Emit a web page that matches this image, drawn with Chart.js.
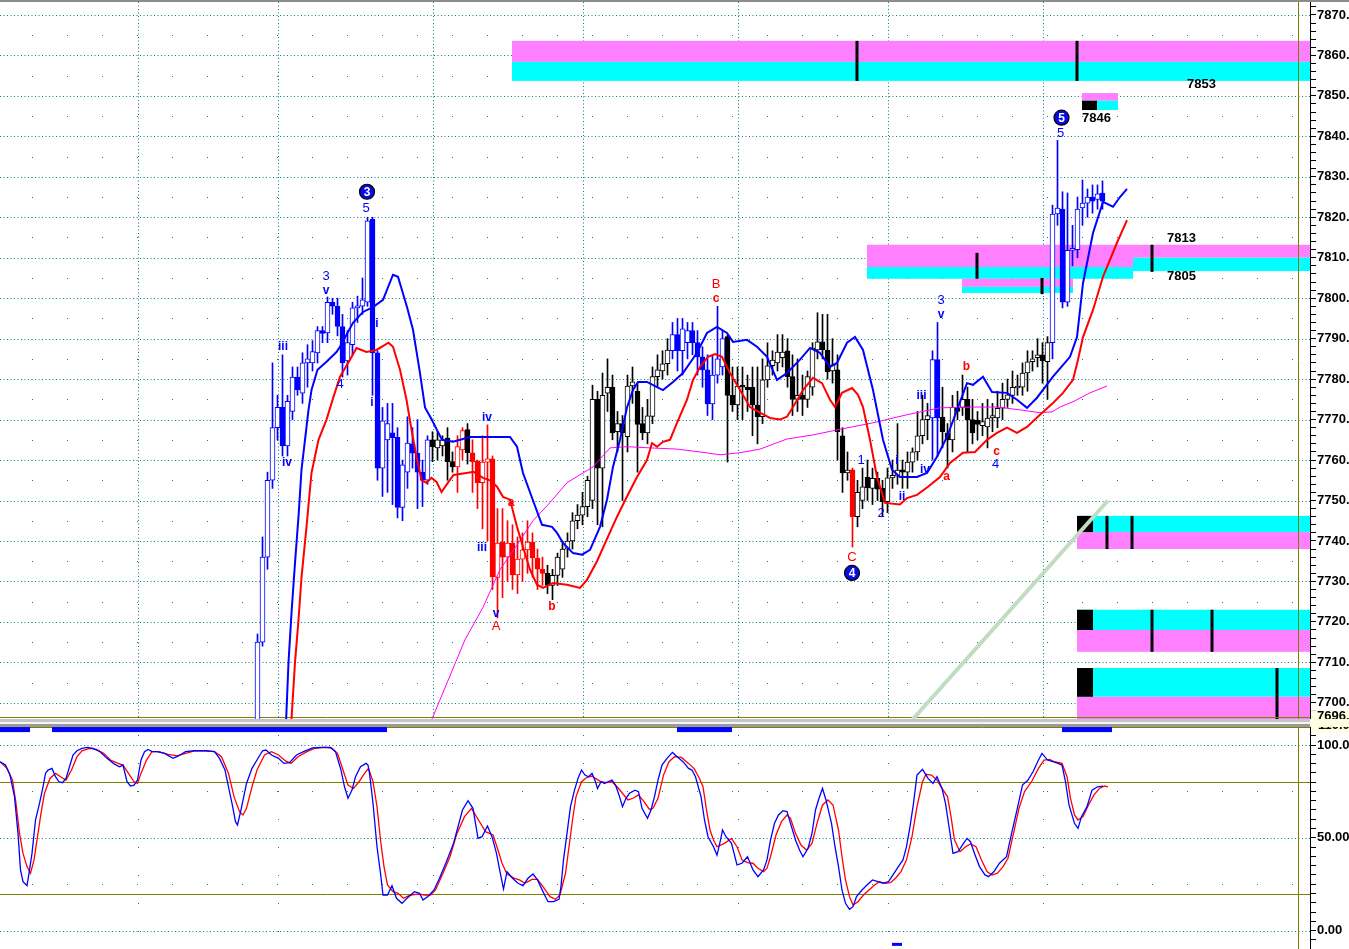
<!DOCTYPE html>
<html>
<head>
<meta charset="utf-8">
<title>Price with bands and stochastic</title>
<script src="https://cdn.jsdelivr.net/npm/chart.js@4.4.1/dist/chart.umd.min.js"></script>
<style>
    html, body { margin: 0; padding: 0; background: #fff; overflow: hidden; }
    #frame { position: relative; width: 1349px; height: 949px; }
    #price-box { position: absolute; left: 0; top: 0; width: 1349px; height: 720px; }
    #top-rule { position: absolute; left: 0; top: 0; width: 1349px; height: 2px; background: #8c8c8c; }
    #divider { position: absolute; left: 0; top: 719px; width: 1310px; height: 8px;
               background: linear-gradient(#c4c4c4 0 3px, #f4f4f4 3px 5px, #9a9a9a 5px 8px); }
    #divider-axis { position: absolute; left: 1310px; top: 719px; width: 39px; height: 8px; background: #ffffe4; }
    #osc-box { position: absolute; left: 0; top: 727px; width: 1349px; height: 222px; }
</style>
</head>
<body>
<div id="frame">
    <div id="price-box"><canvas id="price-chart" width="1349" height="720"></canvas></div>
    <div id="top-rule"></div>
    <div id="divider"></div>
    <div id="divider-axis"></div>
    <div id="osc-box"><canvas id="osc-chart" width="1349" height="222"></canvas></div>
</div>
<script>
// ---- candles, bar 51 .. 220 (earlier bars sit below the visible range) ----
const firstBar = 51;
const barOpen = [
    7690, 7715, 7736, 7755, 7768, 7773, 7763.5, 7772, 7780.5, 7776.5,
    7784, 7784, 7786.5, 7792, 7791.4, 7799, 7798, 7793, 7784.5, 7788.5,
    7797.6, 7798, 7799, 7819.5, 7786.5, 7758, 7765, 7766.7, 7765.6, 7748.3,
    7757, 7764, 7761.7, 7757, 7755, 7765, 7763, 7763.5, 7765.4, 7759.6,
    7758.3, 7762.5, 7767.5, 7761.8, 7759.7, 7754.4, 7759.5, 7760.3, 7731, 7739.7,
    7736, 7739.5, 7731.6, 7735.5, 7737.8, 7739.7, 7735.8, 7733, 7732, 7729,
    7731.5, 7733, 7738, 7740, 7745, 7746.4, 7748.5, 7750, 7775, 7758,
    7776.5, 7778, 7767, 7769, 7765.8, 7778.3, 7777, 7769, 7766.7, 7770.8,
    7780.6, 7782, 7783.8, 7787, 7791, 7787, 7789, 7792, 7789, 7785.5,
    7782.3, 7773.9, 7781, 7783, 7790.5, 7776, 7773.6, 7778.5, 7778, 7778,
    7773.6, 7770.7, 7779.8, 7783.3, 7784, 7785.3, 7787, 7780.6, 7775, 7776,
    7775, 7778, 7787.2, 7789.2, 7787.2, 7782, 7782.3, 7766, 7756.8, 7757.6,
    7746, 7750, 7755.8, 7753, 7755.5, 7753, 7749.7, 7755.6, 7756, 7757.6,
    7757, 7759.5, 7762, 7766, 7770, 7770.4, 7784.8, 7770.6, 7766.7, 7765,
    7773, 7773, 7775, 7770, 7769.8, 7768.5, 7768.2, 7770.4, 7770.4, 7772.8,
    7775, 7776, 7777.8, 7778, 7781.5, 7784.3, 7785.3, 7786, 7784.3, 7789,
    7820.8, 7822, 7799, 7811.8, 7812, 7822.3, 7823.5, 7825, 7824.4, 7826
];
const barHigh = [
    7717, 7741, 7757, 7784, 7776, 7786, 7776, 7783, 7783, 7786.5,
    7788.5, 7789.5, 7793, 7793, 7800.3, 7800, 7800, 7796, 7792, 7799,
    7800.5, 7805, 7820, 7820, 7787, 7773, 7774, 7774, 7768, 7760,
    7770.7, 7768, 7770, 7760, 7766, 7767, 7767, 7766, 7768, 7762,
    7766, 7768, 7769, 7765, 7760, 7766, 7768.7, 7761, 7748, 7748,
    7745, 7744, 7741, 7742, 7745, 7742, 7738, 7736, 7734, 7733,
    7737, 7740, 7742, 7747, 7749, 7752, 7756, 7778.5, 7777, 7781.5,
    7785, 7781, 7772, 7771, 7781, 7783, 7779, 7773, 7775, 7783,
    7786, 7787, 7790, 7794, 7795, 7795, 7794, 7794, 7792, 7788,
    7786, 7786, 7798, 7792, 7791, 7783, 7783, 7783, 7781, 7783,
    7783, 7785, 7789, 7787, 7791, 7791, 7790, 7786, 7785, 7781,
    7782, 7789, 7796.4, 7796, 7796, 7790, 7786, 7768, 7762, 7758,
    7755, 7758, 7760, 7758, 7757, 7755, 7758, 7760, 7769, 7760,
    7762, 7763, 7772, 7776, 7774, 7787, 7794, 7778, 7769, 7776,
    7777, 7781, 7778, 7775, 7772, 7774, 7775, 7774, 7777, 7779,
    7780, 7782, 7781, 7784, 7787, 7787, 7790, 7789, 7790.5, 7823,
    7839, 7826.3, 7826, 7818, 7825, 7829.2, 7827, 7828, 7828, 7829
];
const barLow = [
    7688, 7714, 7733, 7753, 7765, 7761, 7761, 7770, 7776, 7774,
    7778, 7782, 7784, 7789, 7789, 7796, 7790.7, 7780.5, 7781, 7786,
    7794, 7796, 7798, 7776, 7755, 7751, 7752, 7749, 7745.7, 7745,
    7753, 7758, 7748, 7748.5, 7754, 7759.6, 7760, 7761, 7755, 7757,
    7752, 7760, 7759, 7752, 7748, 7743, 7740, 7728, 7721, 7726,
    7730, 7728, 7727, 7730, 7732, 7731, 7728, 7729, 7727, 7725.5,
    7729, 7731, 7736, 7738, 7743, 7744, 7746, 7748, 7744, 7743.5,
    7772, 7765, 7762, 7750, 7762, 7774, 7757, 7765, 7764, 7769,
    7778, 7780, 7781, 7785, 7782, 7781, 7785, 7786, 7781, 7778,
    7771, 7770, 7779, 7781, 7759.5, 7772, 7770, 7770, 7772, 7766,
    7764, 7769, 7778, 7781, 7782, 7783, 7778, 7771, 7772, 7771,
    7773, 7776, 7785, 7785, 7780, 7779, 7760, 7752, 7755, 7738.5,
    7743.5, 7748, 7750, 7749, 7750, 7746, 7747, 7753, 7754, 7753,
    7753, 7757, 7760, 7764, 7765, 7760, 7760.8, 7763, 7758, 7762,
    7770, 7771, 7762, 7764, 7765, 7766, 7763, 7767, 7768, 7770,
    7773, 7774, 7776, 7776, 7777, 7782, 7783, 7779, 7775, 7785,
    7818, 7797.6, 7798, 7808, 7810, 7818, 7820, 7821, 7822, 7822
];
const barClose = [
    7715, 7736, 7755, 7768, 7773, 7763.5, 7774.5, 7780.5, 7777.3, 7784,
    7785, 7786.8, 7792, 7791.3, 7799, 7798, 7793, 7784, 7789, 7797.6,
    7798, 7799.6, 7819.1, 7786.5, 7758, 7769.7, 7769, 7765.5, 7748.3, 7758.8,
    7764.2, 7761.7, 7757, 7755, 7765, 7763.3, 7765, 7765, 7759.6, 7758.3,
    7763.3, 7767.3, 7761.8, 7759.6, 7754.4, 7759.5, 7760.3, 7731.1, 7739.5, 7736,
    7739.5, 7731.6, 7735.5, 7737.8, 7739.7, 7735.8, 7733, 7732, 7729, 7731.5,
    7736, 7738, 7740, 7745, 7746.4, 7748.5, 7755, 7775, 7758, 7776,
    7778, 7766.7, 7769, 7766.7, 7778.3, 7779.3, 7768.8, 7766.7, 7770.9, 7780.6,
    7782.3, 7783.8, 7787.2, 7791, 7787, 7792.4, 7792, 7789, 7785.5, 7782.3,
    7773.9, 7781, 7785, 7790, 7776, 7773.6, 7778.3, 7778, 7777.3, 7773.6,
    7770.7, 7779.8, 7783.3, 7784.7, 7786.7, 7786.7, 7780.6, 7775, 7776, 7775,
    7780.6, 7787.7, 7789.2, 7787.3, 7781.8, 7783.5, 7767, 7756.8, 7757.5, 7746,
    7752, 7753.4, 7753.2, 7755.5, 7752.8, 7749.7, 7755.6, 7756.2, 7757.5, 7757,
    7759.5, 7762, 7766, 7770, 7771, 7784.8, 7770.4, 7767, 7765, 7773,
    7772, 7775, 7770, 7766.7, 7768.8, 7769.5, 7770.4, 7771, 7772.8, 7775,
    7776.1, 7778, 7778.3, 7781.5, 7784.3, 7785, 7786, 7784.5, 7789, 7820.8,
    7822.3, 7799, 7811.8, 7812.3, 7822, 7823.5, 7825, 7824, 7825.8, 7824
];
// b = blue, k = black, r = red
const barTone = (
    'bbbbbbbbbbbbbbbbbbbbbbbbbbbbbbbbbbb' + 'kkkkk' + 'rr' + 'k' + 'rrrrrrrrrrrrrrr' +
    'kkkkkkkkkkkkkkkkkkkkkkkkk' + 'bbbbbbbbbbb' + 'kkkkkkkkkkkkkkkkkkkkkkkkk' + 'r' +
    'kkkkkkkkkkkkkkk' + 'bb' + 'kkkkkkkkkkkkkkkkkkkkkk' + 'bbbbbbbbbbb'
).split('');
const lastMarkPrice = 7696.2;

// ---- overlay lines (bar position, price) ----
const blueBandX = [56.6, 57.2, 57.8, 58.5, 59.2, 59.8, 60.5, 61.2, 61.8, 63.0, 64.8, 66.8, 67.5, 70.1, 72.1, 74.1, 76.1, 78.1, 79.1, 80.9,
    82.1, 83.5, 84.5, 85.9, 86.9, 87.9, 90.1, 93.5, 98.1, 101.5, 102.9, 104.1, 106.1, 107.9, 109.9, 110.9, 112.1, 114.1, 115.9, 117.5,
    119.5, 120.9, 122.1, 123.5, 124.9, 126.1, 127.1, 128.9, 130.9, 132.1, 134.1, 136.1, 138.9, 140.9, 142.9, 144.9, 146.1, 148.9, 150.9, 152.9,
    154.9, 156.9, 159.5, 161.5, 163.5, 165.5, 166.9, 168.9, 170.5, 172.1, 174.1, 176.1, 177.9, 179.5, 182.9, 184.9, 186.9, 188.9, 190.9, 192.9,
    194.1, 196.1, 197.9, 200.9, 202.9, 204.9, 206.9, 210.1, 213.5, 214.9, 216.1, 218.1, 220.1, 222.1, 223.5, 224.9];
const blueBandY = [7692, 7710, 7722.2, 7734.6, 7746, 7757.6, 7765, 7772.4, 7777.3, 7782.3, 7784.3, 7786.7, 7788, 7793.9, 7796.6, 7797.8, 7799.6, 7805.8, 7805.3, 7797.8,
    7792.2, 7781.5, 7773, 7769.9, 7767.4, 7765, 7764.5, 7765.7, 7765.7, 7765.7, 7763.3, 7756.8, 7750, 7744, 7743.5, 7742, 7739.5, 7737, 7736.6, 7737.8,
    7743.5, 7750.2, 7758.3, 7765, 7773, 7777.3, 7779.3, 7779.3, 7778, 7777.3, 7779.3, 7781.5, 7786.5, 7791.4, 7792.9, 7791.4, 7789.2, 7789.7, 7788, 7785.5,
    7779.8, 7781.5, 7784.8, 7787.7, 7786.5, 7783, 7784, 7789, 7790.4, 7787.2, 7777.3, 7765, 7757.6, 7755.8, 7755.8, 7756.8, 7760.8, 7765.7, 7772.4, 7779,
    7778.6, 7780.6, 7776.8, 7776.6, 7774.9, 7772.9, 7775.4, 7780.6, 7785.5, 7790.4, 7803.7, 7816.1, 7823.8, 7822.6, 7825, 7827];

const redBandX = [57.7, 58.5, 59.2, 59.8, 60.8, 61.8, 63.2, 64.8, 66.2, 67.5, 69.5, 70.8, 72.8, 74.8, 77.2, 78.1, 79.5, 80.8, 81.8, 82.8,
    83.8, 84.8, 85.8, 86.8, 87.8, 89.2, 90.2, 92.8, 94.2, 96.1, 97.5, 98.9, 100.1, 101.5, 102.9, 104.1, 105.5, 106.9, 108.1, 110.1,
    112.9, 115.5, 116.9, 118.9, 120.9, 122.9, 124.9, 126.9, 128.9, 129.9, 130.9, 132.1, 133.5, 134.9, 136.9, 138.1, 139.5, 141.1, 142.5, 143.9,
    145.5, 147.5, 149.5, 151.5, 153.5, 155.5, 156.9, 158.1, 160.1, 162.1, 163.9, 165.5, 166.5, 167.9, 169.9, 171.1, 172.1, 173.5, 174.9, 176.5,
    179.5, 180.9, 182.9, 185.1, 187.5, 189.5, 192.1, 194.5, 196.9, 198.9, 200.9, 202.9, 204.9, 207.5, 210.1, 212.1, 214.1, 215.1, 216.1, 218.1,
    220.1, 221.5, 222.9, 224.9];
const redBandY = [7694, 7710, 7720.5, 7731, 7743.5, 7756.8, 7765, 7770, 7775.6, 7780.6, 7784.8, 7787.7, 7786.7, 7787.2, 7789, 7788, 7782.3, 7774.9, 7767.5, 7760.8,
    7755, 7754.4, 7755.6, 7754.6, 7752.1, 7754.6, 7756.3, 7756.8, 7757.1, 7755.6, 7755, 7753.4, 7750.9, 7750.2, 7743.5, 7738.5, 7732.9, 7729.2, 7728.4, 7729.6,
    7729.2, 7728.4, 7730.4, 7735, 7740.5, 7746, 7751, 7755.8, 7760, 7764.2, 7763.3, 7764.5, 7765, 7769.2, 7774.9, 7779.8, 7783, 7785.5, 7786.2, 7785.5,
    7781.5, 7777.3, 7773.1, 7771.7, 7770.4, 7770, 7770.7, 7773.1, 7777.3, 7780.3, 7779, 7774.9, 7773.1, 7776.6, 7777.8, 7776.1, 7773.1, 7765, 7755.8, 7749.4,
    7749, 7750.6, 7751.4, 7753.4, 7755.8, 7759.3, 7761.8, 7762, 7765, 7766.7, 7768, 7766.7, 7768.2, 7771.2, 7774.1, 7776.6, 7779.8, 7784.8, 7790.4, 7797.1,
    7805.3, 7809.5, 7813.7, 7819.3];

const pinkAvgX = [85.9, 92.5, 96.1, 99.5, 102.9, 106.1, 109.5, 112.9, 118.1, 121.5, 124.9, 129.5, 134.9, 139.5, 143.5, 147.5,
    151.5, 156.9, 162.1, 167.5, 174.1, 180.9, 187.5, 194.1, 198.9, 203.5, 207.5, 209.9, 211.5, 214.1, 217.5, 220.9];
const pinkAvgY = [7696, 7715.6, 7723.6, 7732.9, 7739, 7745, 7749.5, 7754.4, 7758.3, 7763, 7763.3, 7763, 7762.7, 7762, 7761.3, 7761.8,
    7762.7, 7765.2, 7766.2, 7767.6, 7769.2, 7771.2, 7772.9, 7773.1, 7773.1, 7772.4, 7771.7, 7771.9, 7773.1, 7774.4, 7776.6, 7778.3];

const trendX = [182.1, 221.1];
const trendY = [7696, 7750];

// ---- target zones ----
const zoneFrom  = [101.9, 215.9, 172.9, 226.1, 191.9, 214.9, 214.9, 214.9];
const zoneTo    = [261.5, 223.1, 226.1, 261.5, 214.1, 261.5, 261.5, 261.5];
const zoneHigh  = [7863.6, 7850.7, 7813.2, 7813.2, 7804.8, 7746.2, 7723, 7708.6];
const zoneMid   = [7858.4, 7848.8, 7807.7, 7810, 7802.8, 7742.2, 7718, 7701.5];
const zoneLow   = [7853.7, 7846.5, 7804.8, 7806.7, 7801.3, 7738, 7712.6, 7695];
const zoneUpper = ['m', 'm', 'm', 'm', 'm', 'c', 'c', 'c'];
const zoneBlockTo = [null, 218.9, null, null, null, 218.1, 218.1, 218.1];

const markX   = [170.9, 214.9, 194.9, 209.9, 229.9, 207.9, 220.9, 225.9, 229.9, 241.9, 254.9];
const markTop = [7863.6, 7863.6, 7811.2, 7811.2, 7813.2, 7805, 7746.2, 7746.2, 7723, 7723, 7708.6];
const markBot = [7853.7, 7853.7, 7804.8, 7804.8, 7806.5, 7801, 7738, 7738, 7712.6, 7712.6, 7695.5];

const noteX    = [236.9, 215.9, 232.9, 232.9];
const noteY    = [7852.8, 7844.5, 7814.7, 7805.5];
const noteText = ['7853', '7846', '7813', '7805'];

// ---- wave labels ----
const waveText = ['5', '3', 'v', 'iii', 'iv', '4', 'i', 'i', 'iv', 'iii', 'v', 'A', 'a', 'b', 'B', 'c', 'C',
    '1', '2', 'i', 'ii', 'iv', 'a', 'iii', '3', 'v', 'b', 'c', '4', '5'];
const waveX = [72.7, 64.7, 64.7, 56.1, 56.9, 67.5, 74.9, 73.9, 96.9, 95.9, 98.7, 98.7, 101.7, 109.9, 142.7, 142.7, 169.9,
    171.7, 175.7, 178.9, 179.9, 184.5, 188.8, 183.8, 187.7, 187.7, 192.8, 198.8, 198.6, 211.6];
const waveY = [7822.3, 7805.3, 7801.8, 7788, 7759.3, 7778.6, 7793.6, 7774.2, 7770.4, 7738.3, 7722, 7719, 7749.4, 7723.7, 7803.3, 7799.8, 7736,
    7759.8, 7746.7, 7759.8, 7750.9, 7757.6, 7756, 7775.9, 7799.4, 7795.9, 7783.1, 7762.1, 7759, 7840.6];
const waveTone = ['b', 'b', 'b', 'b', 'b', 'b', 'b', 'b', 'b', 'b', 'b', 'r', 'r', 'r', 'r', 'r', 'r',
    'b', 'b', 'b', 'b', 'b', 'r', 'b', 'b', 'b', 'r', 'r', 'b', 'b'];
const circleText = ['3', '4', '5'];
const circleX = [72.9, 169.9, 211.8];
const circleY = [7826.3, 7732.1, 7844.6];

const gridBars = [27, 55, 86, 116, 147, 177, 208];
const sessionEnd = 259.1;

// ---- stochastic (bar position, value) ----
const stochKPoints = [
    [-0.5, 91.0], [0.6, 89.2], [1.5, 83.8], [2.4, 72.2], [3.1, 52.4], [3.6, 32.7], [4.1, 26.4], [4.9, 24.2], [5.2, 29.1], [5.9, 41.6],
    [6.6, 59.6], [7.4, 68.6], [8.1, 77.5], [8.6, 84.7], [9.1, 86.5], [9.9, 87.4], [10.6, 82.9], [11.3, 80.2], [12.0, 79.7], [12.7, 82.0],
    [13.4, 88.3], [14.1, 94.6], [14.9, 96.9], [15.9, 98.2], [17.0, 98.7], [18.1, 98.2], [19.5, 96.4], [20.9, 92.8], [22.4, 89.7], [23.4, 88.3],
    [24.1, 89.2], [24.9, 80.2], [25.6, 77.9], [26.3, 78.4], [27.0, 81.1], [27.7, 91.9], [28.4, 96.4], [29.1, 97.6], [29.9, 96.4], [30.9, 96.4],
    [32.4, 95.5], [34.1, 92.8], [35.2, 94.1], [36.6, 96.4], [38.4, 96.9], [40.6, 96.9], [42.4, 96.4], [43.4, 92.8], [44.5, 86.5], [45.2, 77.5],
    [45.9, 68.6], [46.6, 58.7], [47.0, 56.9], [47.7, 65.0], [48.8, 79.3], [49.9, 87.4], [50.9, 91.9], [52.0, 96.9], [52.7, 97.3], [53.8, 94.6],
    [55.2, 92.8], [56.3, 90.1], [57.4, 90.5], [58.8, 94.6], [60.2, 96.4], [62.0, 98.5], [63.8, 98.7], [65.6, 98.7], [66.6, 96.4], [67.7, 86.5],
    [68.4, 77.5], [69.1, 71.3], [69.9, 75.7], [70.6, 82.9], [71.6, 88.3], [72.7, 90.1], [73.1, 89.2], [73.4, 84.7], [74.1, 68.6], [74.9, 45.2],
    [75.6, 30.9], [76.1, 19.2], [77.0, 19.2], [77.9, 24.2], [78.8, 17.4], [79.9, 14.7], [80.9, 17.4], [82.4, 21.0], [83.4, 20.1], [84.1, 16.5],
    [85.2, 18.7], [86.3, 21.9], [87.4, 28.2], [88.8, 37.2], [90.2, 47.0], [92.0, 65.0], [93.1, 70.0], [94.1, 65.9], [95.1, 49.7], [95.9, 50.6],
    [97.0, 56.4], [97.9, 50.6], [98.8, 41.6], [99.5, 31.8], [100.2, 22.4], [100.9, 31.8], [102.0, 28.2], [103.1, 25.5], [104.1, 24.2], [105.1, 28.2],
    [106.1, 30.5], [107.0, 27.3], [108.1, 21.0], [109.1, 15.6], [110.2, 15.6], [111.3, 16.9], [111.7, 24.0], [112.2, 38.1], [112.9, 52.4], [113.6, 66.8],
    [114.4, 75.7], [115.1, 82.0], [115.8, 86.5], [116.5, 83.8], [117.2, 82.9], [117.9, 84.7], [118.6, 80.2], [119.0, 76.6], [119.7, 80.2], [120.4, 79.3],
    [121.1, 80.2], [121.9, 81.1], [122.6, 78.4], [123.3, 73.1], [124.0, 66.8], [124.7, 71.3], [125.4, 74.0], [126.5, 75.7], [127.2, 74.9], [127.9, 65.9],
    [129.0, 60.5], [129.7, 65.0], [130.4, 72.2], [131.1, 81.1], [131.9, 89.2], [132.9, 92.8], [134.0, 96.0], [135.1, 93.3], [136.1, 91.0], [137.2, 87.4],
    [137.9, 86.5], [138.6, 82.9], [139.7, 72.2], [140.4, 59.6], [141.1, 50.6], [142.2, 45.2], [142.9, 40.7], [143.6, 48.8], [144.0, 54.2], [144.7, 50.6],
    [145.8, 47.0], [146.9, 35.4], [147.9, 36.3], [149.0, 39.8], [150.1, 32.7], [151.1, 29.1], [152.2, 32.7], [152.9, 38.1], [153.6, 48.8], [154.4, 57.8],
    [155.2, 62.3], [156.1, 64.6], [156.9, 64.1], [157.6, 57.8], [158.6, 48.8], [159.4, 43.4], [160.1, 39.8], [161.1, 44.3], [161.9, 52.4], [162.6, 65.0],
    [163.3, 71.3], [164.0, 76.6], [164.7, 70.4], [165.8, 57.8], [166.5, 45.2], [167.2, 34.5], [167.9, 21.9], [168.6, 14.7], [169.4, 11.5], [170.1, 12.9],
    [170.8, 18.3], [171.9, 21.9], [172.9, 24.6], [174.0, 27.3], [175.1, 26.4], [176.1, 25.5], [177.2, 26.4], [178.3, 30.9], [179.4, 35.4], [180.1, 38.1],
    [180.8, 45.2], [181.5, 56.0], [182.2, 68.6], [182.9, 83.8], [184.0, 86.9], [185.1, 82.0], [186.1, 79.3], [186.9, 82.9], [187.9, 76.6], [188.6, 68.6],
    [189.4, 54.2], [190.1, 41.6], [191.1, 42.5], [192.2, 47.0], [192.9, 49.7], [193.6, 47.9], [194.4, 41.6], [195.4, 34.5], [196.5, 30.0], [197.2, 29.1],
    [198.3, 31.8], [199.4, 36.3], [200.8, 39.8], [201.9, 53.3], [202.9, 65.0], [204.0, 78.4], [205.1, 81.1], [206.1, 85.6], [207.2, 91.9], [207.9, 95.5],
    [209.0, 91.9], [210.1, 91.0], [211.1, 90.1], [211.9, 89.2], [212.6, 80.2], [213.3, 67.7], [214.4, 57.8], [215.1, 55.1], [215.8, 61.4], [216.9, 66.8],
    [217.9, 75.7], [219.0, 77.5], [220.1, 77.9]
];
const stochDPoints = [
    [-0.5, 91.0], [0.9, 87.4], [2.0, 81.1], [2.7, 68.6], [3.4, 52.4], [4.1, 41.6], [4.9, 34.5], [5.6, 30.9], [6.3, 38.1], [7.0, 50.6],
    [7.7, 63.2], [8.4, 74.0], [9.5, 82.0], [10.6, 84.7], [11.6, 82.9], [12.7, 81.1], [13.8, 86.5], [14.9, 93.7], [15.9, 96.9], [17.4, 98.2],
    [18.8, 97.6], [20.2, 95.5], [21.6, 91.9], [23.1, 90.1], [24.1, 89.2], [25.2, 84.7], [26.3, 80.2], [27.0, 79.3], [27.7, 84.7], [28.8, 91.9],
    [29.9, 96.4], [31.3, 96.4], [33.1, 95.0], [34.9, 94.1], [36.6, 95.5], [38.4, 96.8], [40.6, 96.8], [42.4, 96.4], [43.8, 93.7], [45.2, 84.7],
    [46.3, 72.2], [47.4, 64.1], [48.1, 62.3], [48.8, 65.9], [49.9, 77.5], [50.9, 86.5], [52.4, 94.6], [53.8, 96.4], [55.2, 94.6], [56.6, 91.4],
    [57.7, 90.1], [59.1, 93.7], [60.9, 96.4], [62.4, 98.2], [64.5, 98.7], [65.9, 98.2], [67.0, 95.5], [68.1, 86.5], [69.1, 78.4], [70.2, 76.6],
    [71.3, 80.2], [72.4, 84.7], [73.2, 87.4], [74.1, 80.2], [74.9, 66.8], [75.6, 48.8], [76.3, 34.5], [77.0, 24.6], [78.1, 21.0], [79.1, 20.1],
    [80.2, 17.4], [81.6, 19.2], [83.1, 19.7], [84.5, 19.2], [85.6, 19.2], [86.6, 21.9], [88.1, 30.9], [89.5, 39.8], [90.9, 52.4], [92.4, 61.4],
    [93.8, 65.9], [95.2, 59.6], [96.6, 53.3], [98.1, 51.5], [99.1, 43.4], [99.9, 36.3], [100.9, 30.5], [102.4, 28.2], [103.4, 27.3], [104.5, 25.5],
    [105.9, 27.6], [107.0, 27.6], [108.1, 23.7], [109.5, 18.3], [110.6, 16.9], [111.5, 19.2], [112.6, 30.9], [113.3, 45.2], [114.0, 59.6], [114.7, 72.2],
    [115.8, 80.2], [116.9, 82.6], [117.9, 83.3], [118.6, 82.0], [119.7, 80.2], [120.8, 79.7], [121.9, 80.2], [122.9, 77.5], [124.0, 74.0], [125.1, 70.4],
    [126.1, 71.3], [127.2, 73.1], [128.3, 69.5], [129.4, 65.3], [130.1, 65.9], [131.1, 71.3], [132.2, 83.8], [133.3, 91.0], [134.4, 93.7], [135.8, 93.3],
    [137.2, 90.1], [138.3, 87.4], [139.4, 82.0], [140.1, 77.5], [140.8, 65.0], [141.5, 54.2], [142.2, 48.8], [142.9, 45.2], [144.4, 47.0], [145.8, 49.7],
    [146.9, 45.2], [147.9, 38.1], [149.0, 36.6], [150.1, 36.3], [151.1, 33.6], [152.2, 31.8], [152.9, 33.6], [153.6, 39.8], [154.7, 51.5], [155.8, 58.7],
    [156.9, 62.3], [157.6, 60.5], [158.6, 52.4], [159.7, 46.1], [160.8, 43.4], [161.9, 47.0], [162.9, 57.8], [164.0, 67.7], [165.1, 70.4], [166.1, 67.7],
    [167.2, 54.2], [167.9, 39.8], [168.6, 27.3], [169.4, 18.3], [170.1, 13.8], [171.1, 15.6], [172.2, 19.2], [173.3, 21.9], [174.4, 24.6], [175.4, 26.4],
    [176.5, 25.5], [177.6, 25.8], [178.6, 28.2], [179.7, 31.8], [180.8, 38.1], [181.9, 50.6], [182.9, 66.8], [184.0, 80.2], [184.7, 84.2], [185.8, 83.8],
    [186.9, 81.1], [187.9, 76.6], [189.0, 72.2], [189.7, 61.4], [190.4, 48.8], [191.5, 42.5], [192.6, 45.2], [193.6, 46.7], [194.7, 45.2], [195.8, 38.1],
    [196.9, 31.8], [197.9, 30.0], [199.0, 30.9], [200.1, 34.5], [201.1, 39.0], [202.2, 52.4], [203.3, 65.9], [204.4, 74.9], [205.8, 80.2], [207.2, 87.4],
    [208.3, 91.9], [209.4, 92.3], [210.4, 91.0], [211.9, 90.1], [212.9, 82.9], [213.6, 71.3], [214.4, 62.3], [215.1, 59.6], [216.1, 61.4], [217.2, 67.7],
    [218.3, 73.1], [219.4, 76.6], [220.4, 77.9], [221.1, 77.5]
];
const stochLevels = [80, 20];
const signalFrom = [-0.5, 9.9, 134.9, 211.9];
const signalTo = [5.5, 76.9, 145.9, 221.9];
const signalLevel = 108.3;
const lowSignalFrom = [177.9];
const lowSignalTo = [179.9];
const lowSignalLevel = -7.4;

// ---- style ----
const toneColor = { b: '#0000ff', k: '#000000', r: '#ff0000' };
const gridColor = '#008080';
const olive = '#808000';
const magenta = '#ff80ff';
const cyan = '#00ffff';
const markerFill = '#ffffe4';
const axisFont = { family: '"Liberation Sans", Arial, sans-serif', size: 13, weight: 'bold' };

function strokeLine(ctx, x0, y0, x1, y1) {
    ctx.beginPath();
    ctx.moveTo(x0, y0);
    ctx.lineTo(x1, y1);
    ctx.stroke();
}

function clipToArea(ctx, a) {
    ctx.beginPath();
    ctx.rect(a.left, a.top, a.right - a.left, a.bottom - a.top);
    ctx.clip();
}

// keep the plot area flush with the canvas edges
function fitAxis(scale) {
    scale.width = 39;
    scale.paddingTop = 0;
    scale.paddingBottom = 0;
}

const pricePaper = {
    id: 'pricePaper',
    beforeDatasetsDraw(chart) {
        const { ctx, chartArea: a, scales: { x, y } } = chart;
        ctx.save();
        clipToArea(ctx, a);

        // dotted grid
        ctx.strokeStyle = gridColor;
        ctx.lineWidth = 1;
        ctx.setLineDash([1, 2.5]);
        for (let p = 7700; p <= 7870; p += 10) {
            const py = Math.round(y.getPixelForValue(p)) + 0.5;
            strokeLine(ctx, a.left, py, a.right, py);
        }
        gridBars.forEach(b => {
            const px = Math.round(x.getPixelForValue(b)) + 0.5;
            strokeLine(ctx, px, a.top, px, a.bottom);
        });
        ctx.setLineDash([]);
        ctx.fillStyle = gridColor;
        for (let p = 7705; p < 7870; p += 10) {
            const py = Math.round(y.getPixelForValue(p));
            for (let px = 32; px < a.right; px += 35) ctx.fillRect(px, py, 1, 1);
        }

        // zones
        zoneFrom.forEach((from, k) => {
            const x0 = x.getPixelForValue(from), x1 = x.getPixelForValue(zoneTo[k]);
            const yHi = y.getPixelForValue(zoneHigh[k]);
            const yMid = y.getPixelForValue(zoneMid[k]);
            const yLo = y.getPixelForValue(zoneLow[k]);
            const upperMagenta = zoneUpper[k] === 'm';
            ctx.fillStyle = upperMagenta ? magenta : cyan;
            ctx.fillRect(x0, yHi, x1 - x0, yMid - yHi);
            ctx.fillStyle = upperMagenta ? cyan : magenta;
            ctx.fillRect(x0, yMid, x1 - x0, yLo - yMid);
            if (zoneBlockTo[k] !== null) {
                const xb = x.getPixelForValue(zoneBlockTo[k]);
                ctx.fillStyle = '#000';
                if (upperMagenta) ctx.fillRect(x0, yMid, xb - x0, yLo - yMid);
                else ctx.fillRect(x0, yHi, xb - x0, yMid - yHi);
            }
        });
        ctx.fillStyle = '#000';
        markX.forEach((m, k) => {
            const px = x.getPixelForValue(m);
            const y0 = y.getPixelForValue(markTop[k]), y1 = y.getPixelForValue(markBot[k]);
            ctx.fillRect(px - 1.5, y0, 3, y1 - y0);
        });

        // session end and bottom border
        ctx.strokeStyle = olive;
        const sx = Math.round(x.getPixelForValue(sessionEnd)) + 0.5;
        strokeLine(ctx, sx, a.top, sx, a.bottom);
        strokeLine(ctx, a.left, a.bottom - 1.5, a.right, a.bottom - 1.5);
        ctx.restore();
    },
    afterDatasetsDraw(chart) {
        const { ctx, chartArea: a, scales: { x, y } } = chart;
        ctx.save();
        clipToArea(ctx, a);
        ctx.textAlign = 'center';
        ctx.textBaseline = 'middle';
        waveText.forEach((t, k) => {
            const plain = /^[0-9ABC]$/.test(t);
            ctx.font = plain ? '13px "Liberation Sans", Arial, sans-serif' : 'bold 12px "Liberation Sans", Arial, sans-serif';
            ctx.fillStyle = toneColor[waveTone[k]];
            ctx.fillText(t, x.getPixelForValue(waveX[k]), y.getPixelForValue(waveY[k]));
        });
        circleText.forEach((t, k) => {
            const cx = x.getPixelForValue(circleX[k]), cy = y.getPixelForValue(circleY[k]);
            ctx.beginPath();
            ctx.arc(cx, cy, 7.5, 0, Math.PI * 2);
            ctx.fillStyle = '#0a0ae6';
            ctx.fill();
            ctx.lineWidth = 1.2;
            ctx.strokeStyle = '#000';
            ctx.stroke();
            ctx.fillStyle = '#fff';
            ctx.font = 'bold 12px "Liberation Sans", Arial, sans-serif';
            ctx.fillText(t, cx, cy + 0.5);
        });
        ctx.textAlign = 'left';
        ctx.fillStyle = '#000';
        ctx.font = 'bold 13px "Liberation Sans", Arial, sans-serif';
        noteText.forEach((t, k) => {
            ctx.fillText(t, x.getPixelForValue(noteX[k]), y.getPixelForValue(noteY[k]));
        });
        ctx.restore();
    },
    afterDraw(chart) {
        // last price marker on the axis
        const { ctx, chartArea: a, scales: { y } } = chart;
        const my = y.getPixelForValue(lastMarkPrice);
        ctx.save();
        ctx.fillStyle = markerFill;
        ctx.fillRect(a.right + 1, my - 8, 39, chart.height - (my - 8));
        ctx.fillStyle = '#000';
        ctx.font = 'bold 13px "Liberation Sans", Arial, sans-serif';
        ctx.textBaseline = 'middle';
        ctx.fillText(lastMarkPrice.toFixed(1), a.right + 7, my - 2);
        ctx.restore();
    }
};

const oscPaper = {
    id: 'oscPaper',
    beforeDatasetsDraw(chart) {
        const { ctx, chartArea: a, scales: { x, y } } = chart;
        ctx.save();
        clipToArea(ctx, a);
        ctx.strokeStyle = gridColor;
        ctx.lineWidth = 1;
        ctx.setLineDash([1, 2.5]);
        [100, 50, 0].forEach(v => {
            const py = Math.round(y.getPixelForValue(v)) + 0.5;
            strokeLine(ctx, a.left, py, a.right, py);
        });
        ctx.setLineDash([1, 27]);
        gridBars.forEach(b => {
            const px = Math.round(x.getPixelForValue(b)) + 0.5;
            strokeLine(ctx, px, a.top + 8, px, a.bottom);
        });
        ctx.setLineDash([]);
        ctx.fillStyle = gridColor;
        [75, 25].forEach(v => {
            const py = Math.round(y.getPixelForValue(v));
            for (let px = 32; px < a.right; px += 35) ctx.fillRect(px, py, 1, 1);
        });
        ctx.strokeStyle = olive;
        stochLevels.forEach(v => {
            const py = Math.round(y.getPixelForValue(v)) + 0.5;
            strokeLine(ctx, a.left, py, a.right, py);
        });
        strokeLine(ctx, a.left, a.top + 0.5, a.right, a.top + 0.5);
        const sx = Math.round(x.getPixelForValue(sessionEnd)) + 0.5;
        strokeLine(ctx, sx, a.top, sx, a.bottom);
        ctx.restore();
    },
    afterDatasetsDraw(chart) {
        const { ctx, chartArea: a, scales: { x, y } } = chart;
        ctx.save();
        clipToArea(ctx, a);
        ctx.fillStyle = '#0000ff';
        const sy = y.getPixelForValue(signalLevel);
        signalFrom.forEach((f, k) => {
            const x0 = x.getPixelForValue(f), x1 = x.getPixelForValue(signalTo[k]);
            ctx.fillRect(x0, sy - 2.5, x1 - x0, 5);
        });
        const ly = y.getPixelForValue(lowSignalLevel);
        lowSignalFrom.forEach((f, k) => {
            const x0 = x.getPixelForValue(f), x1 = x.getPixelForValue(lowSignalTo[k]);
            ctx.fillRect(x0, ly - 1.5, x1 - x0, 3);
        });
        ctx.restore();
    },
    afterDraw(chart) {
        // top of the 110 label, mostly hidden under the divider
        const { ctx, chartArea: a } = chart;
        ctx.save();
        ctx.fillStyle = markerFill;
        ctx.fillRect(a.right + 1, 0, 39, 6);
        ctx.fillStyle = '#000';
        ctx.font = 'bold 13px "Liberation Sans", Arial, sans-serif';
        ctx.textBaseline = 'middle';
        ctx.fillText('110.0', a.right + 8, -2);
        ctx.restore();
    }
};

const bars = barOpen.map((_, k) => firstBar + k);
const barColors = barTone.map(t => toneColor[t]);
const bodyFill = barTone.map((t, k) => barClose[k] < barOpen[k] ? toneColor[t] : '#ffffff');

function lineData(xs, ys) {
    return xs.map((x, k) => ({ x, y: ys[k] }));
}

new Chart(document.getElementById('price-chart'), {
    type: 'bar',
    data: {
        datasets: [
            {
                type: 'line', label: 'upper', data: lineData(blueBandX, blueBandY),
                borderColor: '#0000ff', borderWidth: 2, pointRadius: 0, tension: 0, order: 0
            },
            {
                type: 'line', label: 'lower', data: lineData(redBandX, redBandY),
                borderColor: '#ff0000', borderWidth: 2, pointRadius: 0, tension: 0, order: 0
            },
            {
                type: 'line', label: 'slow', data: lineData(pinkAvgX, pinkAvgY),
                borderColor: '#ff00ff', borderWidth: 1, pointRadius: 0, tension: 0, order: 0
            },
            {
                type: 'line', label: 'trend', data: lineData(trendX, trendY),
                borderColor: '#c2dcc2', borderWidth: 4, pointRadius: 0, tension: 0, order: 0
            },
            {
                label: 'body', data: bars.map((b, k) => ({ x: b, y: [barOpen[k], barClose[k]] })),
                backgroundColor: bodyFill, borderColor: barColors, borderWidth: 1, borderSkipped: false,
                barThickness: 5, minBarLength: 2, grouped: false, order: 1
            },
            {
                label: 'wick', data: bars.map((b, k) => ({ x: b, y: [barLow[k], barHigh[k]] })),
                backgroundColor: barColors, borderWidth: 0, barThickness: 1, grouped: false, order: 2
            }
        ]
    },
    options: {
        responsive: false,
        animation: false,
        events: [],
        layout: { padding: { top: 2, bottom: 1, left: 0, right: 0 } },
        plugins: { legend: { display: false }, tooltip: { enabled: false } },
        scales: {
            x: { type: 'linear', min: -0.5, max: 261.5, offset: false, display: false },
            y: {
                position: 'right', min: 7696, max: 7873.2,
                afterFit: fitAxis,
                grid: { drawOnChartArea: false, tickLength: 6, tickColor: '#000' },
                border: { display: true, color: '#000', width: 1 },
                ticks: {
                    stepSize: 2, includeBounds: false, autoSkip: false, padding: 1,
                    color: '#000', font: axisFont,
                    callback: v => Math.abs(v % 10) < 1e-6 ? v.toFixed(1) : ''
                }
            }
        }
    },
    plugins: [pricePaper]
});

new Chart(document.getElementById('osc-chart'), {
    type: 'line',
    data: {
        datasets: [
            {
                label: '%K', data: stochKPoints.map(p => ({ x: p[0], y: p[1] })),
                borderColor: '#0000ff', borderWidth: 1.3, pointRadius: 0, tension: 0
            },
            {
                label: '%D', data: stochDPoints.map(p => ({ x: p[0], y: p[1] })),
                borderColor: '#ff0000', borderWidth: 1.3, pointRadius: 0, tension: 0
            }
        ]
    },
    options: {
        responsive: false,
        animation: false,
        events: [],
        layout: { padding: 0 },
        plugins: { legend: { display: false }, tooltip: { enabled: false } },
        scales: {
            x: { type: 'linear', min: -0.5, max: 261.5, display: false },
            y: {
                position: 'right', min: -9.9, max: 109.7,
                afterFit: fitAxis,
                grid: { drawOnChartArea: false, tickLength: 6, tickColor: '#000' },
                border: { display: true, color: '#000', width: 1 },
                ticks: {
                    stepSize: 5, includeBounds: false, autoSkip: false, padding: 1,
                    color: '#000', font: axisFont,
                    callback: v => v === 100 ? '100.0' : v === 50 ? '50.00' : v === 0 ? '0.00' : ''
                }
            }
        }
    },
    plugins: [oscPaper]
});
</script>
</body>
</html>
